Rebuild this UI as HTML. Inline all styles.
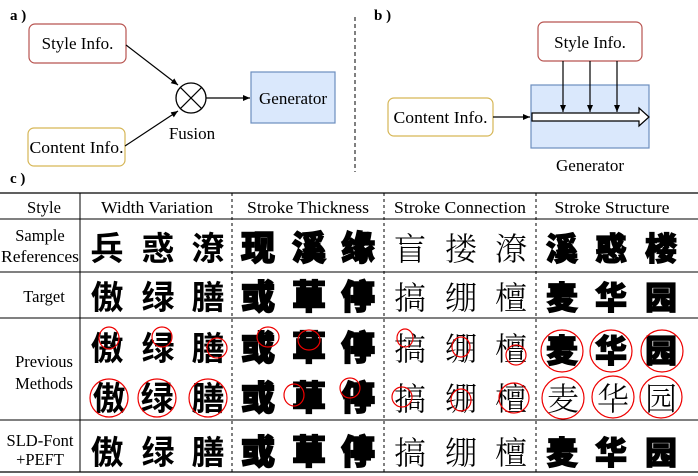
<!DOCTYPE html>
<html><head><meta charset="utf-8">
<style>
html,body{margin:0;padding:0;background:#fff;}
svg{display:block;}
.l{font-family:"Liberation Serif","Noto Serif CJK SC",serif;font-size:17px;fill:#000;}
.m{font-family:"Liberation Serif","Noto Serif CJK SC",serif;font-size:16.5px;fill:#000;}
.b{font-family:"Liberation Serif",serif;font-size:15px;font-weight:bold;fill:#000;}
.w{font-family:"Liberation Sans","Noto Sans CJK SC",sans-serif;font-weight:bold;font-size:33px;}
.t{font-family:"Liberation Sans","Noto Sans CJK SC",sans-serif;font-weight:900;font-size:34px;stroke:#000;stroke-width:1.5px;}
.c{font-family:"Liberation Serif","Noto Serif CJK SC",serif;font-weight:300;font-size:32px;}
.s{font-family:"Liberation Sans","Noto Sans CJK SC",sans-serif;font-weight:900;font-size:32px;stroke:#000;stroke-width:1.2px;}
</style></head><body>
<svg width="698" height="476" viewBox="0 0 698 476" xmlns="http://www.w3.org/2000/svg">
<defs>
<marker id="ah" markerWidth="8" markerHeight="8" refX="7" refY="4" orient="auto" markerUnits="userSpaceOnUse"><path d="M0,1 L7,4 L0,7 Z" fill="#000"/></marker>
</defs>
<!-- a -->
<text class="b" x="10" y="20">a )</text>
<rect x="29" y="24" width="97" height="39" rx="6" fill="#fff" stroke="#b85450" stroke-width="1.2"/>
<text class="l" x="77.5" y="49" text-anchor="middle">Style Info.</text>
<rect x="28" y="128" width="97" height="38" rx="6" fill="#fff" stroke="#d6b656" stroke-width="1.2"/>
<text class="l" x="76.5" y="153" text-anchor="middle" textLength="94" lengthAdjust="spacingAndGlyphs">Content Info.</text>
<line x1="126" y1="45" x2="178" y2="85" stroke="#000" stroke-width="1.2" marker-end="url(#ah)"/>
<line x1="125" y1="146" x2="178" y2="111" stroke="#000" stroke-width="1.2" marker-end="url(#ah)"/>
<circle cx="191" cy="98" r="15" fill="#fff" stroke="#000" stroke-width="1.3"/>
<line x1="180.4" y1="87.4" x2="201.6" y2="108.6" stroke="#000" stroke-width="1.2"/>
<line x1="201.6" y1="87.4" x2="180.4" y2="108.6" stroke="#000" stroke-width="1.2"/>
<text class="l" x="192" y="139" text-anchor="middle">Fusion</text>
<line x1="206" y1="98" x2="250" y2="98" stroke="#000" stroke-width="1.2" marker-end="url(#ah)"/>
<rect x="251" y="72" width="84" height="51" fill="#dae8fc" stroke="#6c8ebf" stroke-width="1.2"/>
<text class="l" x="293" y="104" text-anchor="middle">Generator</text>
<line x1="355" y1="17" x2="355" y2="172" stroke="#000" stroke-width="1" stroke-dasharray="4,3"/>
<!-- b -->
<text class="b" x="374" y="20">b )</text>
<rect x="538" y="22" width="104" height="39" rx="6" fill="#fff" stroke="#b85450" stroke-width="1.2"/>
<text class="l" x="590" y="48" text-anchor="middle">Style Info.</text>
<rect x="531" y="85" width="118" height="63" fill="#dae8fc" stroke="#6c8ebf" stroke-width="1.2"/>
<rect x="388" y="98" width="105" height="38" rx="6" fill="#fff" stroke="#d6b656" stroke-width="1.2"/>
<text class="l" x="440.5" y="123" text-anchor="middle" textLength="94" lengthAdjust="spacingAndGlyphs">Content Info.</text>
<line x1="493" y1="117" x2="530" y2="117" stroke="#000" stroke-width="1.2" marker-end="url(#ah)"/>
<path d="M532,113 L639,113 L639,108 L649,117 L639,126 L639,121 L532,121 Z" fill="#fff" stroke="#000" stroke-width="1.2"/>
<line x1="563" y1="61" x2="563" y2="112" stroke="#000" stroke-width="1.2" marker-end="url(#ah)"/>
<line x1="590" y1="61" x2="590" y2="112" stroke="#000" stroke-width="1.2" marker-end="url(#ah)"/>
<line x1="617" y1="61" x2="617" y2="112" stroke="#000" stroke-width="1.2" marker-end="url(#ah)"/>
<text class="l" x="590" y="171" text-anchor="middle">Generator</text>
<!-- c -->
<text class="b" x="10" y="183">c )</text>
<line x1="0" y1="193" x2="698" y2="193" stroke="#000" stroke-width="1.2"/>
<line x1="0" y1="219" x2="698" y2="219" stroke="#000" stroke-width="1"/>
<line x1="0" y1="272" x2="698" y2="272" stroke="#000" stroke-width="1"/>
<line x1="0" y1="318" x2="698" y2="318" stroke="#000" stroke-width="1"/>
<line x1="0" y1="420" x2="698" y2="420" stroke="#000" stroke-width="1"/>
<line x1="0" y1="472" x2="698" y2="472" stroke="#000" stroke-width="1.2"/>
<line x1="80" y1="193" x2="80" y2="472" stroke="#000" stroke-width="1"/>
<line x1="232" y1="193" x2="232" y2="472" stroke="#000" stroke-width="1" stroke-dasharray="3,3"/>
<line x1="384" y1="193" x2="384" y2="472" stroke="#000" stroke-width="1" stroke-dasharray="3,3"/>
<line x1="536" y1="193" x2="536" y2="472" stroke="#000" stroke-width="1" stroke-dasharray="3,3"/>
<g class="m" text-anchor="middle">
<text x="44" y="213">Style</text>
<text x="157" y="213" textLength="112" lengthAdjust="spacingAndGlyphs">Width Variation</text>
<text x="308" y="213" textLength="122" lengthAdjust="spacingAndGlyphs">Stroke Thickness</text>
<text x="460" y="213" textLength="132" lengthAdjust="spacingAndGlyphs">Stroke Connection</text>
<text x="612" y="213" textLength="115" lengthAdjust="spacingAndGlyphs">Stroke Structure</text>
<text x="40" y="241">Sample</text>
<text x="40" y="262" textLength="78" lengthAdjust="spacingAndGlyphs">References</text>
<text x="44" y="302">Target</text>
<text x="44" y="367">Previous</text>
<text x="44" y="389">Methods</text>
<text x="40" y="446">SLD-Font</text>
<text x="40" y="465">+PEFT</text>
</g>
<!-- sample row -->
<g text-anchor="middle">
<text class="w" x="107" y="260">兵</text><text class="w" x="158" y="260">惑</text><text class="w" x="208" y="260">潦</text>
<text class="t" x="258" y="260">现</text><text class="t" x="309" y="260">溪</text><text class="t" x="358" y="260">缘</text>
<text class="c" x="410" y="260">盲</text><text class="c" x="461" y="260">搂</text><text class="c" x="511" y="260">潦</text>
<text class="s" x="562" y="260">溪</text><text class="s" x="611" y="260">惑</text><text class="s" x="661" y="260">楼</text>
</g>
<g text-anchor="middle">
<text class="w" x="107" y="309">傲</text><text class="w" x="158" y="309">绿</text><text class="w" x="208" y="309">膳</text>
<text class="t" x="258" y="309">或</text><text class="t" x="309" y="309">草</text><text class="t" x="358" y="309">停</text>
<text class="c" x="410" y="309">搞</text><text class="c" x="461" y="309">绷</text><text class="c" x="511" y="309">檀</text>
<text class="s" x="562" y="309">麦</text><text class="s" x="611" y="309">华</text><text class="s" x="661" y="309">园</text>
</g>
<g text-anchor="middle">
<text class="w" x="107" y="360">傲</text><text class="w" x="158" y="360">绿</text><text class="w" x="208" y="360">膳</text>
<text class="t" x="258" y="360">或</text><text class="t" x="309" y="360">草</text><text class="t" x="358" y="360">停</text>
<text class="c" x="410" y="360">搞</text><text class="c" x="461" y="360">绷</text><text class="c" x="511" y="360">檀</text>
<text class="s" x="562" y="362">麦</text><text class="s" x="611" y="362">华</text><text class="s" x="661" y="362">园</text>
</g>
<g text-anchor="middle">
<text class="w" x="109" y="410">傲</text><text class="w" x="157" y="410">绿</text><text class="w" x="208" y="410">膳</text>
<text class="t" x="258" y="410">或</text><text class="t" x="309" y="410">草</text><text class="t" x="358" y="410">停</text>
<text class="c" x="410" y="410">搞</text><text class="c" x="461" y="410">绷</text><text class="c" x="511" y="410">檀</text>
<text class="c" x="563" y="410">麦</text><text class="c" x="613" y="410">华</text><text class="c" x="661" y="410">园</text>
</g>
<g text-anchor="middle">
<text class="w" x="107" y="464">傲</text><text class="w" x="158" y="464">绿</text><text class="w" x="208" y="464">膳</text>
<text class="t" x="258" y="464">或</text><text class="t" x="309" y="464">草</text><text class="t" x="358" y="464">停</text>
<text class="c" x="410" y="464">搞</text><text class="c" x="461" y="464">绷</text><text class="c" x="511" y="464">檀</text>
<text class="s" x="562" y="464">麦</text><text class="s" x="611" y="464">华</text><text class="s" x="661" y="464">园</text>
</g>
<g fill="none" stroke="#e00" stroke-width="1.2">
<ellipse cx="109" cy="338" rx="10" ry="11"/>
<ellipse cx="162" cy="337" rx="10" ry="10"/>
<ellipse cx="217" cy="348" rx="10" ry="10"/>
<ellipse cx="268" cy="337" rx="11" ry="10"/>
<ellipse cx="309" cy="340" rx="11" ry="10"/>
<ellipse cx="405" cy="338" rx="8" ry="9"/>
<ellipse cx="461" cy="347" rx="9" ry="10"/>
<ellipse cx="516" cy="355" rx="10" ry="10"/>
<ellipse cx="562" cy="351" rx="21" ry="21"/>
<ellipse cx="611" cy="351" rx="21" ry="21"/>
<ellipse cx="662" cy="351" rx="21" ry="21"/>
<ellipse cx="109" cy="398" rx="19" ry="19"/>
<ellipse cx="157" cy="398" rx="19" ry="19"/>
<ellipse cx="208" cy="398" rx="19" ry="19"/>
<ellipse cx="294" cy="395" rx="10" ry="11"/>
<ellipse cx="350" cy="388" rx="10" ry="10"/>
<ellipse cx="402" cy="397" rx="10" ry="10"/>
<ellipse cx="461" cy="400" rx="10" ry="11"/>
<ellipse cx="514" cy="398" rx="15" ry="15"/>
<ellipse cx="563" cy="398" rx="21" ry="21"/>
<ellipse cx="613" cy="397" rx="21" ry="21"/>
<ellipse cx="661" cy="397" rx="21" ry="21"/>
</g>
</svg>
</body></html>
